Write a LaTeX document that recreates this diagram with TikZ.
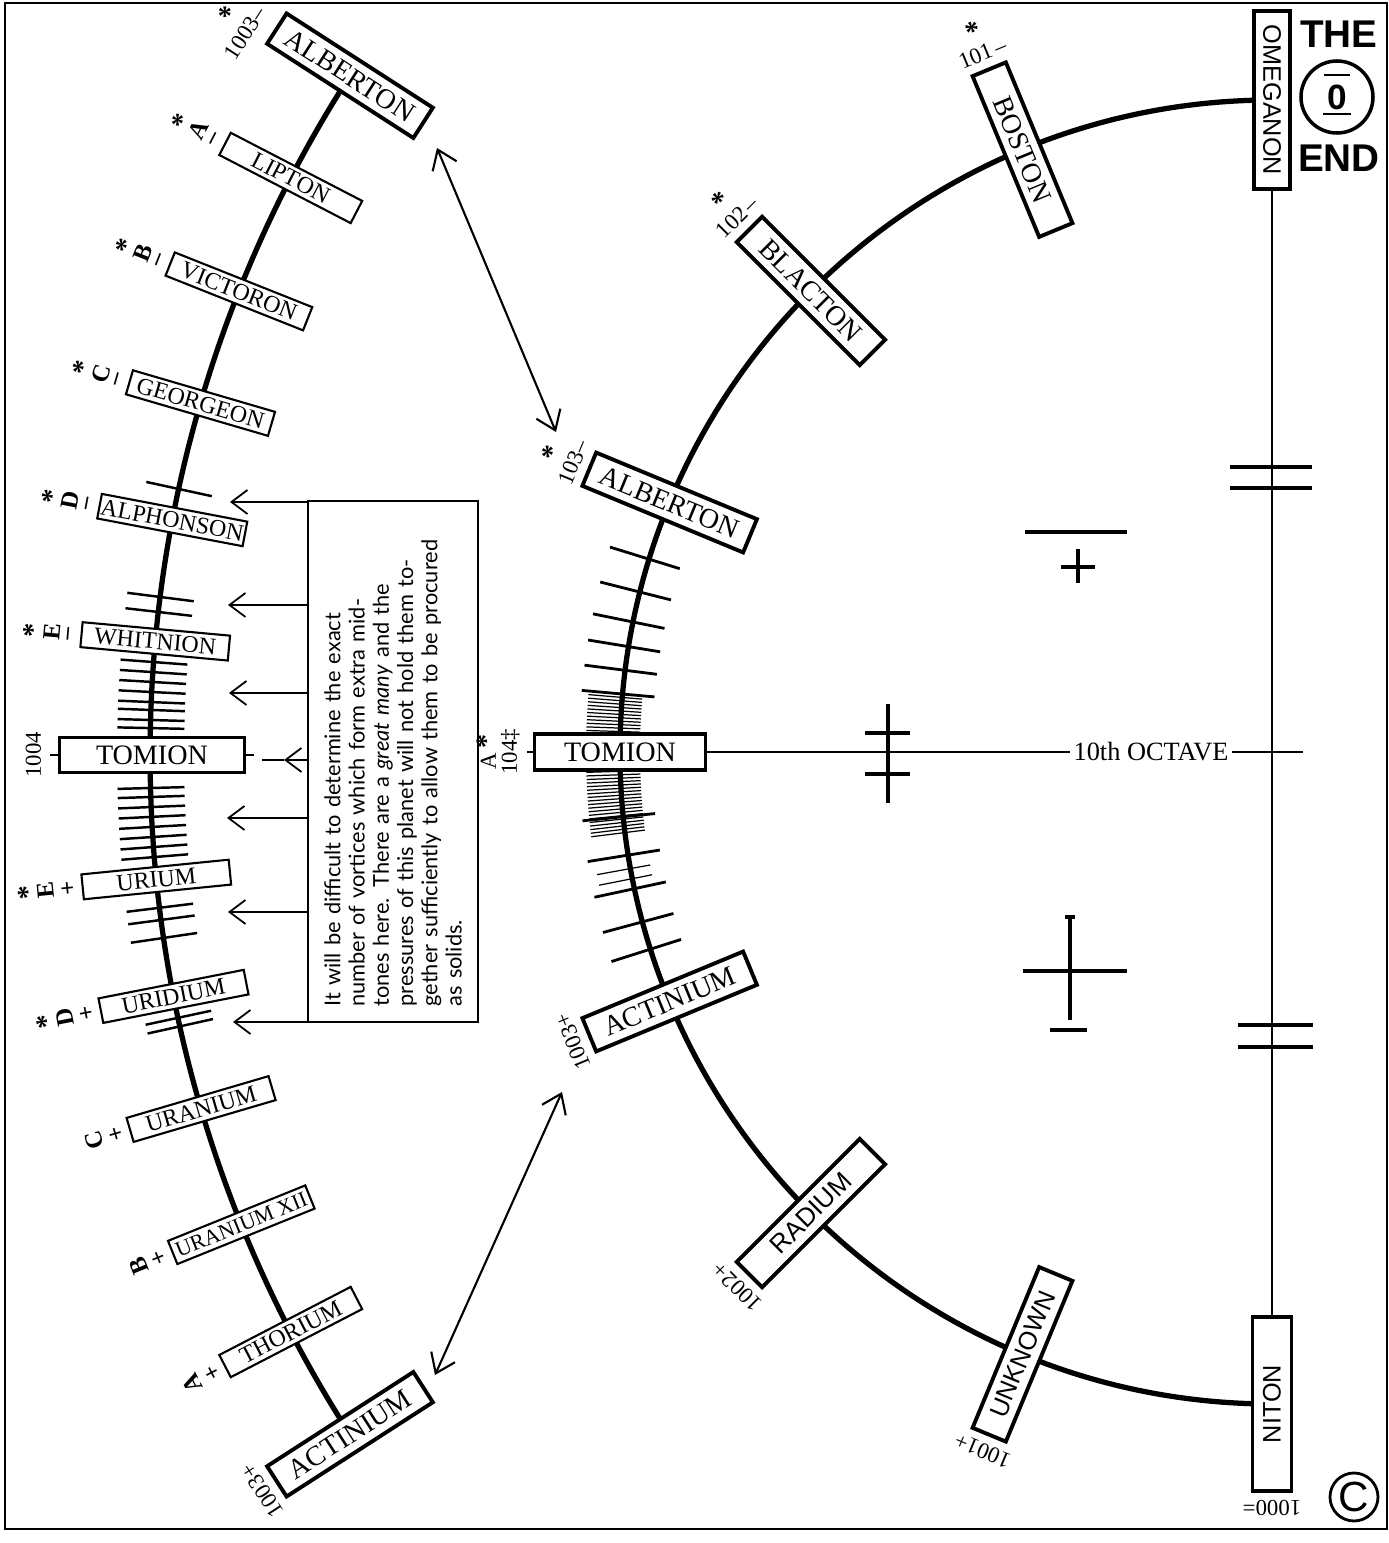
\documentclass[tikz,border=0pt]{standalone}
\usepackage{fontspec}
\setmainfont{Liberation Serif}
\setsansfont{Liberation Sans}
\newfontfamily\notefont{Lato}
\usetikzlibrary{arrows.meta,calc}
\newcommand{\sstar}{{\fontsize{8}{8}\selectfont\bfseries *}}

\begin{document}
\begin{tikzpicture}[
  bigbox/.style={draw, line width=1.1pt, fill=white, minimum width=1.74cm, minimum height=0.36cm,
                 inner sep=0pt, font=\fontsize{8}{8}\selectfont},
  smallbox/.style={draw, line width=0.6pt, fill=white, minimum width=1.48cm, minimum height=0.25cm,
                   inner sep=0pt, font=\fontsize{6.8}{6.8}\selectfont},
  tag/.style={anchor=south, inner sep=2pt, font=\fontsize{6.5}{7}\selectfont},
  letter/.style={anchor=south, inner sep=1.5pt, font=\fontsize{7}{7.5}\selectfont\bfseries},
  arcline/.style={line width=1.5pt},
  tick/.style={line width=0.8pt},
  ltick/.style={line width=0.7pt},
  fine/.style={line width=0.35pt},
  thin/.style={line width=0.5pt},
  sign/.style={line width=0.9pt},
  note/.style={-{Straight Barb[length=1.6mm,width=2.4mm]}, line width=0.5pt},
  both/.style={{Straight Barb[length=1.8mm,width=2.6mm]}-{Straight Barb[length=1.8mm,width=2.6mm]},
               line width=0.6pt}
]
  \useasboundingbox (0,0) rectangle (13.89,15.43);
  \draw[line width=0.7pt] (0.05,0.14) rectangle (13.87,15.40);
  \coordinate (lc) at (14.04,7.88);
  \coordinate (rc) at (12.72,7.91);

  % the two curves
  \draw[arcline] ([shift={(147.2:12.54)}]lc) arc[start angle=147.2, end angle=212.8, radius=12.54];
  \draw[arcline] ([shift={(90:6.52)}]rc) arc[start angle=90, end angle=270, radius=6.52];

  % mid-tones on the left curve
  \foreach \a in {167.75,172.76,173.45,175.75,176.21,176.66,177.12,177.58,177.94,178.4,178.77,
                  181.51,181.92,182.38,182.83,183.29,183.75,184.21,184.67,187.0,187.56,188.39,192.1,192.5}
    \draw[ltick] ([shift={(\a:12.20)}]lc) -- ([shift={(\a:12.87)}]lc);

  % mid-tones on the right curve
  \foreach \a in {162.8,165.8,168.5,170.7,172.8,174.9,185.7,189.1,192.1,195.1,197.6}
    \draw[tick] ([shift={(\a:6.20)}]rc) -- ([shift={(\a:6.93)}]rc);
  \foreach \a in {175.2,175.5,...,178.5,181.7,182.0,...,187.3,190.3,191.2}
    \draw[fine] ([shift={(\a:6.32)}]rc) -- ([shift={(\a:6.86)}]rc);

  % left octave
  \node[bigbox, rotate=-32.8] (albL) at ([shift={(147.2:12.54)}]lc) {ALBERTON};
  \node[smallbox, rotate=-27.4] (lipton) at ([shift={(152.6:12.54)}]lc) {LIPTON};
  \node[smallbox, rotate=-21.7] (victoron) at ([shift={(158.3:12.54)}]lc) {VICTORON};
  \node[smallbox, rotate=-16.3] (georgeon) at ([shift={(163.7:12.54)}]lc) {GEORGEON};
  \node[smallbox, rotate=-10.8] (alphonson) at ([shift={(169.2:12.54)}]lc) {ALPHONSON};
  \node[smallbox, rotate=-5.2] (whitnion) at ([shift={(174.8:12.54)}]lc) {WHITNION};
  \node[bigbox, minimum width=1.85cm, minimum height=0.35cm] (tomL) at ([shift={(180:12.52)}]lc) {TOMION};
  \node[smallbox, rotate=5.7] (urium) at ([shift={(185.7:12.54)}]lc) {URIUM};
  \node[smallbox, rotate=11.1] (uridium) at ([shift={(191.1:12.54)}]lc) {URIDIUM};
  \node[smallbox, rotate=16.4] (uranium) at ([shift={(196.4:12.54)}]lc) {URANIUM};
  \node[smallbox, rotate=22.0, font=\fontsize{6.2}{6.2}\selectfont] (uranxii) at ([shift={(202.0:12.54)}]lc) {URANIUM XII};
  \node[smallbox, rotate=27.4] (thorium) at ([shift={(207.4:12.54)}]lc) {THORIUM};
  \node[bigbox, rotate=32.8] (actL) at ([shift={(212.8:12.54)}]lc) {ACTINIUM};

  \node[tag, rotate=57.2, anchor=center] (albLtag) at (2.45,15.10) {1003--};
  \node[inner sep=0pt] (albLstar) at (2.25,15.27) {\sstar};
  \node[letter, rotate=62.6] at (lipton.west) {\shortstack{\sstar\\[-2.5pt]A\\[-0.8pt]--}};
  \node[letter, rotate=68.3] at (victoron.west) {\shortstack{\sstar\\[-2.5pt]B\\[-0.8pt]--}};
  \node[letter, rotate=73.7] at (georgeon.west) {\shortstack{\sstar\\[-2.5pt]C\\[-0.8pt]--}};
  \node[letter, rotate=79.2] at (alphonson.west) {\shortstack{\sstar\\[-2.5pt]D\\[-0.8pt]--}};
  \node[letter, rotate=84.8] at (whitnion.west) {\shortstack{\sstar\\[-2.5pt]E\\[-0.8pt]--}};
  \draw[thin] (tomL.west) -- ++(-0.08,0);
  \draw[thin] (tomL.east) -- ++(0.08,0);
  \node[tag, rotate=90, inner sep=4.5pt] at (tomL.west) {1004};
  \node[letter, rotate=95.7] at (urium.west) {\shortstack{\sstar\\[-2.5pt]E\\[-0.8pt]+}};
  \node[letter, rotate=101.1] at (uridium.west) {\shortstack{\sstar\\[-2.5pt]D\\[-0.8pt]+}};
  \node[letter, rotate=106.4] at (uranium.west) {\shortstack{C\\[-0.8pt]+}};
  \node[letter, rotate=112.0] at (uranxii.west) {\shortstack{B\\[-0.8pt]+}};
  \node[letter, rotate=117.4] at (thorium.west) {\shortstack{A\\[-0.8pt]+}};
  \node[tag, rotate=122.8] at (actL.west) {1003+};

  % right octave
  \node[bigbox, rotate=-90, minimum width=1.78cm, font=\sffamily\fontsize{7.2}{7.2}\selectfont]
    (omeganon) at ([shift={(90:6.52)}]rc) {OMEGANON};
  \node[bigbox, rotate=-67.5] (boston) at ([shift={(112.5:6.52)}]rc) {BOSTON};
  \node[bigbox, rotate=-45] (blacton) at ([shift={(135:6.52)}]rc) {BLACTON};
  \node[bigbox, rotate=-22.5] (albR) at ([shift={(157.5:6.52)}]rc) {ALBERTON};
  \node[bigbox, minimum width=1.71cm] (tomR) at ([shift={(180:6.52)}]rc) {TOMION};
  \node[bigbox, rotate=22.5] (actR) at ([shift={(202.5:6.52)}]rc) {ACTINIUM};
  \node[bigbox, rotate=45, font=\sffamily\fontsize{7.4}{7.4}\selectfont] (radium) at ([shift={(225:6.52)}]rc) {RADIUM};
  \node[bigbox, rotate=67.5, font=\sffamily\fontsize{7.2}{7.2}\selectfont] (unknown) at ([shift={(247.5:6.52)}]rc) {UNKNOWN};
  \node[bigbox, rotate=90, minimum height=0.39cm, font=\sffamily\fontsize{7.2}{7.2}\selectfont]
    (niton) at ([shift={(270:6.52)}]rc) {NITON};

  \node[tag, rotate=22.5] at (boston.west) {\shortstack{\sstar\\[-1.2pt]101\,--}};
  \node[tag, rotate=45] at (blacton.west) {\shortstack{\sstar\\[-1.2pt]102\,--}};
  \node[tag, rotate=67.5] at (albR.west) {\shortstack{\sstar\\[-1.2pt]103--}};
  \draw[thin] (tomR.west) -- ++(-0.06,0);
  \node[tag, rotate=90, inner sep=3.5pt] at (tomR.west) {\shortstack{A\,\sstar\\[-1.5pt]104\ddag}};
  \node[tag, rotate=112.5] at (actR.west) {1003+};
  \node[tag, rotate=135] at (radium.west) {1002+};
  \node[tag, rotate=157.5] at (unknown.west) {1001+};
  \node[tag, rotate=180] at (niton.west) {1000=};

  % octave line and axis
  \draw[thin] (omeganon.east) -- (niton.east);
  \coordinate (octend) at (13.03,7.91);
  \draw[thin] (tomR.east) -- (octend);
  \node[fill=white, inner sep=1pt, font=\fontsize{7.5}{7.5}\selectfont] (octave) at (11.51,7.91) {10th OCTAVE};

  % signs
  \draw[sign] (12.30,10.76) -- (13.12,10.76) (12.30,10.55) -- (13.12,10.55);
  \draw[sign] (12.38,5.18) -- (13.13,5.18) (12.38,4.96) -- (13.13,4.96);
  \draw[sign] (10.25,10.11) -- (11.27,10.11);
  \draw[sign] (10.61,9.76) -- (10.95,9.76) (10.78,9.94) -- (10.78,9.60);
  \draw[sign] (8.88,8.39) -- (8.88,7.40) (8.65,8.10) -- (9.10,8.10) (8.65,7.69) -- (9.10,7.69);
  \draw[sign] (10.70,6.26) -- (10.70,5.23) (10.23,5.72) -- (11.27,5.72) (10.50,5.13) -- (10.87,5.13)
              (10.65,6.26) -- (10.75,6.26);

  % the end
  \node[font=\sffamily\bfseries\fontsize{11}{11}\selectfont] (the) at (13.39,15.09) {THE};
  \node[draw, circle, line width=1pt, minimum size=0.72cm, inner sep=0pt,
        font=\sffamily\bfseries\fontsize{10}{10}\selectfont] (zero) at (13.37,14.46) {0};
  \draw[line width=0.8pt] ([xshift=-0.13cm, yshift=0.22cm]zero.center) -- ([xshift=0.13cm, yshift=0.22cm]zero.center);
  \draw[line width=0.8pt] ([xshift=-0.14cm, yshift=-0.17cm]zero.center) -- ([xshift=0.14cm, yshift=-0.17cm]zero.center);
  \node[font=\sffamily\bfseries\fontsize{11}{11}\selectfont] (end) at (13.39,13.85) {END};
  \node[draw, circle, line width=0.8pt, minimum size=0.48cm, inner sep=0pt,
        font=\sffamily\fontsize{12}{12}\selectfont] (copyr) at (13.54,0.46) {C};

  % note on the mid-tones
  \node[draw, thin, rotate=90, minimum width=5.21cm, minimum height=1.70cm, inner sep=0pt,
        text width=4.9cm, align=left, font=\notefont\fontsize{6.2}{6.9}\selectfont] (note) at (3.93,7.815)
    {It will be difficult to determine the exact\\
     number of vortices which form extra mid-\\
     tones here.\enspace There are a \textit{great many} and the\\
     pressures of this planet will not hold them to-\\
     gether sufficiently to allow them to be procured\\
     as solids.};
  \coordinate (p1) at (2.30,10.41);
  \coordinate (p2) at (2.28,9.38);
  \coordinate (p3) at (2.29,8.50);
  \coordinate (p5) at (2.27,7.25);
  \coordinate (p6) at (2.28,6.31);
  \coordinate (p7) at (2.33,5.21);
  \foreach \p in {p1,p2,p3,p5,p6,p7}
    \draw[note] (\p -| note.north) -- (\p);
  \coordinate (th) at (2.84,7.83);
  \coordinate (tt) at (2.62,7.83);
  \draw[note] (th -| note.north) -- (th);
  \draw[thin] (th) -- (tt);

  % links between the octaves
  \coordinate (a1) at (4.37,13.95);
  \coordinate (a2) at (5.56,11.11);
  \coordinate (b1) at (4.35,1.68);
  \coordinate (b2) at (5.62,4.51);
  \draw[both] (a1) -- (a2);
  \draw[both] (b1) -- (b2);
\end{tikzpicture}
\end{document}
